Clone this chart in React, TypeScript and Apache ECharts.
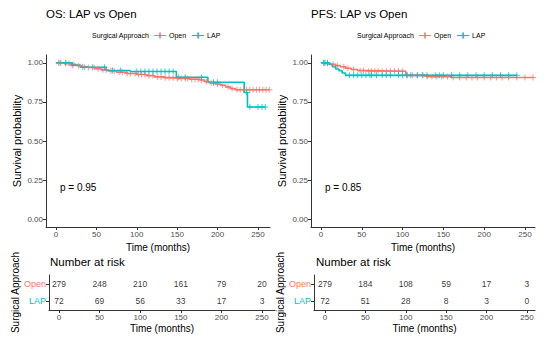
import React, { useEffect, useRef } from "react";
import * as echarts from "echarts";

// ---------- data ----------
const TIME_TICKS = [0, 50, 100, 150, 200, 250];
const SURV_TICKS = [0, 0.25, 0.5, 0.75, 1];
const GROUPS = ["Open", "LAP"];

// Kaplan–Meier steps: [time (months), survival probability]
const OS_OPEN_KM = [
  [0, 1.0], [10, 0.995], [18, 0.99], [25, 0.982], [32, 0.975], [40, 0.97], [48, 0.962],
  [56, 0.955], [65, 0.948], [75, 0.94], [88, 0.932], [100, 0.925], [112, 0.918], [122, 0.91],
  [135, 0.905], [150, 0.9], [165, 0.895], [178, 0.89], [184, 0.88], [190, 0.872], [197, 0.865],
  [204, 0.857], [210, 0.845], [216, 0.835], [222, 0.828], [264, 0.828],
];
const OS_LAP_KM = [
  [0, 1.0], [20, 0.985], [30, 0.972], [62, 0.951], [92, 0.944], [149, 0.908], [188, 0.876],
  [233, 0.81], [237, 0.717], [259, 0.717],
];
const PFS_OPEN_KM = [
  [0, 1.0], [6, 0.995], [12, 0.99], [18, 0.982], [24, 0.975], [30, 0.965], [37, 0.957],
  [45, 0.95], [55, 0.946], [104, 0.92], [130, 0.912], [160, 0.906], [260, 0.906],
];
const PFS_LAP_KM = [
  [0, 1.0], [10, 0.99], [14, 0.975], [18, 0.96], [22, 0.95], [26, 0.935], [30, 0.92], [240, 0.92],
];

// censoring times (months)
const OS_OPEN_CENSOR = [
  3, 6, 12, 16, 22, 28, 33, 40, 47, 52, 58, 62, 68, 72, 78, 82, 88, 92, 98, 102, 106, 110, 115,
  120, 126, 130, 135, 140, 145, 150, 155, 160, 163, 168, 172, 176, 180, 186, 192, 195, 200, 206,
  213, 218, 224, 228, 232, 236, 240, 244, 248, 252, 256, 260, 264,
];
const OS_LAP_CENSOR = [
  5, 12, 20, 35, 45, 60, 70, 80, 100, 105, 110, 115, 120, 125, 130, 135, 140, 145, 152, 160,
  180, 195, 200, 236, 240, 250, 255, 259,
];
const PFS_OPEN_CENSOR = [
  4, 8, 15, 20, 28, 33, 40, 48, 52, 58, 62, 66, 70, 75, 80, 85, 90, 95, 100, 106, 112, 118, 124,
  130, 136, 142, 148, 155, 162, 170, 178, 185, 192, 200, 208, 215, 222, 230, 240, 250, 260,
];
const PFS_LAP_CENSOR = [
  3, 5, 8, 35, 40, 45, 50, 55, 60, 62, 68, 75, 80, 85, 95, 100, 105, 110, 118, 125, 130, 140,
  145, 150, 160, 170, 180, 190, 200, 210, 220, 230, 240,
];

// number at risk at TIME_TICKS
const OS_RISK_OPEN = [279, 248, 210, 161, 79, 20];
const OS_RISK_LAP = [72, 69, 56, 33, 17, 3];
const PFS_RISK_OPEN = [279, 184, 108, 59, 17, 3];
const PFS_RISK_LAP = [72, 51, 28, 8, 3, 0];

const OS_TITLE = "OS: LAP vs Open";
const PFS_TITLE = "PFS: LAP vs Open";
const OS_P = "p = 0.95";
const PFS_P = "p = 0.85";

// ---------- styling ----------
const FONT = '"Liberation Sans", Arial, Helvetica, sans-serif';
const COLORS: Record<string, string> = { Open: "#F8766D", LAP: "#00BFC4" };
const AXIS_COLOR = "#333333";
const TICK_TEXT = "#4D4D4D";
const PLUS = "path://M4.2,0H5.8V4.2H10V5.8H5.8V10H4.2V5.8H0V4.2H4.2Z";
const LEGEND_ICON = "path://M0,4.4H12V5.6H0Z M5.2,2H6.8V8H5.2Z";

function survAt(km: number[][], t: number) {
  let s = 1;
  for (const [tt, ss] of km) {
    if (tt <= t) s = ss;
    else break;
  }
  return s;
}

function timeAxis(gridIndex: number, min: number, max: number) {
  return {
    type: "value",
    gridIndex,
    min,
    max,
    name: "Time (months)",
    nameLocation: "middle",
    nameGap: 13,
    nameTextStyle: { fontSize: 10, color: "#000", fontFamily: FONT },
    axisLine: { show: true, onZero: false, lineStyle: { color: AXIS_COLOR, width: 1 } },
    axisTick: { show: true, length: 3, customValues: TIME_TICKS, lineStyle: { color: AXIS_COLOR } },
    axisLabel: { customValues: TIME_TICKS, fontSize: 8, color: TICK_TEXT, margin: 3, fontFamily: FONT },
    splitLine: { show: false },
  };
}

function survAxis(gridIndex: number) {
  return {
    type: "value",
    gridIndex,
    min: -0.05,
    max: 1.05,
    name: "Survival probability",
    nameLocation: "middle",
    nameGap: 24,
    nameTextStyle: { fontSize: 11, color: "#000", fontFamily: FONT },
    axisLine: { show: true, onZero: false, lineStyle: { color: AXIS_COLOR, width: 1 } },
    axisTick: { show: true, length: 3, customValues: SURV_TICKS, lineStyle: { color: AXIS_COLOR } },
    axisLabel: {
      customValues: SURV_TICKS,
      fontSize: 8,
      color: TICK_TEXT,
      margin: 3,
      fontFamily: FONT,
      formatter: (v: number) => v.toFixed(2),
    },
    splitLine: { show: false },
  };
}

function groupAxis(gridIndex: number) {
  return {
    type: "category",
    gridIndex,
    data: [...GROUPS].reverse(),
    boundaryGap: true,
    name: "Surgical Approach",
    nameLocation: "middle",
    nameGap: 28,
    nameTextStyle: { fontSize: 10, color: "#000", fontFamily: FONT },
    axisLine: { show: true, onZero: false, lineStyle: { color: AXIS_COLOR, width: 1 } },
    axisTick: { show: true, length: 3, alignWithLabel: true, lineStyle: { color: AXIS_COLOR } },
    axisLabel: {
      fontSize: 9,
      margin: 3,
      fontFamily: FONT,
      formatter: (v: string) => `{${v}|${v}}`,
      rich: {
        Open: { color: COLORS.Open, fontSize: 9, fontFamily: FONT },
        LAP: { color: COLORS.LAP, fontSize: 9, fontFamily: FONT },
      },
    },
    splitLine: { show: false },
  };
}

function kmSeries(name: string, km: number[][], censor: number[], axisIndex: number) {
  return [
    {
      type: "line",
      name,
      xAxisIndex: axisIndex,
      yAxisIndex: axisIndex,
      data: km,
      step: "end",
      symbol: "none",
      color: COLORS[name],
      lineStyle: { color: COLORS[name], width: 1.6 },
      z: 3,
    },
    {
      type: "scatter",
      name,
      xAxisIndex: axisIndex,
      yAxisIndex: axisIndex,
      data: censor.map((t) => [t, survAt(km, t)]),
      symbol: PLUS,
      symbolSize: 6,
      color: COLORS[name],
      itemStyle: { color: COLORS[name] },
      z: 4,
    },
  ];
}

function riskSeries(name: string, values: number[], axisIndex: number) {
  return {
    type: "scatter",
    name: "risk-" + name + axisIndex,
    xAxisIndex: axisIndex,
    yAxisIndex: axisIndex,
    data: TIME_TICKS.map((t, i) => [t, name, values[i]]),
    symbolSize: 1,
    itemStyle: { color: "rgba(0,0,0,0)" },
    label: {
      show: true,
      position: "inside",
      formatter: (p: any) => String(p.value[2]),
      fontSize: 8.5,
      color: "#000",
      fontFamily: FONT,
    },
  };
}

function legendFor(left: number) {
  return {
    left,
    top: 32,
    orient: "horizontal",
    itemWidth: 12,
    itemHeight: 6,
    itemGap: 6,
    padding: 0,
    selectedMode: false,
    textStyle: { fontSize: 7, color: "#000", fontFamily: FONT, padding: [0, 0, 0, -2] },
    data: GROUPS.map((g) => ({ name: g, icon: LEGEND_ICON, itemStyle: { color: COLORS[g] } })),
  };
}

export default function App() {
  const ref = useRef<HTMLDivElement>(null);

  useEffect(() => {
    if (!ref.current) return;
    const chart = echarts.init(ref.current, undefined, { renderer: "svg" });
    const option: any = {
      animation: false,
      backgroundColor: "#ffffff",
      textStyle: { fontFamily: FONT },
      grid: [
        { left: 46, top: 55, width: 224, height: 172 },
        { left: 311, top: 55, width: 224, height: 172 },
        { left: 49, top: 275, width: 226, height: 35 },
        { left: 314, top: 275, width: 221, height: 35 },
      ],
      xAxis: [
        timeAxis(0, -12.4, 264.9),
        timeAxis(1, -12.25, 262.3),
        timeAxis(2, -12.3, 266),
        timeAxis(3, -13.6, 260),
      ],
      yAxis: [survAxis(0), survAxis(1), groupAxis(2), groupAxis(3)],
      legend: [legendFor(154), legendFor(419)],
      graphic: [
        { type: "text", left: 46, top: 8, style: { text: OS_TITLE, fontSize: 11.5, fill: "#000", fontFamily: FONT } },
        { type: "text", left: 311, top: 8, style: { text: PFS_TITLE, fontSize: 11.5, fill: "#000", fontFamily: FONT } },
        { type: "text", left: 92, top: 32, style: { text: "Surgical Approach", fontSize: 7, fill: "#000", fontFamily: FONT } },
        { type: "text", left: 357, top: 32, style: { text: "Surgical Approach", fontSize: 7, fill: "#000", fontFamily: FONT } },
        { type: "text", left: 60, top: 182, style: { text: OS_P, fontSize: 10, fill: "#000", fontFamily: FONT } },
        { type: "text", left: 325, top: 182, style: { text: PFS_P, fontSize: 10, fill: "#000", fontFamily: FONT } },
        { type: "text", left: 50, top: 256, style: { text: "Number at risk", fontSize: 11.5, fill: "#000", fontFamily: FONT } },
        { type: "text", left: 316, top: 256, style: { text: "Number at risk", fontSize: 11.5, fill: "#000", fontFamily: FONT } },
      ],
      series: [
        ...kmSeries("Open", OS_OPEN_KM, OS_OPEN_CENSOR, 0),
        ...kmSeries("LAP", OS_LAP_KM, OS_LAP_CENSOR, 0),
        ...kmSeries("Open", PFS_OPEN_KM, PFS_OPEN_CENSOR, 1),
        ...kmSeries("LAP", PFS_LAP_KM, PFS_LAP_CENSOR, 1),
        riskSeries("Open", OS_RISK_OPEN, 2),
        riskSeries("LAP", OS_RISK_LAP, 2),
        riskSeries("Open", PFS_RISK_OPEN, 3),
        riskSeries("LAP", PFS_RISK_LAP, 3),
      ],
    };
    chart.setOption(option);
    return () => chart.dispose();
  }, []);

  return (
    <div
      ref={ref}
      style={{ position: "absolute", left: 0, top: 0, width: 550, height: 341, background: "#fff" }}
    />
  );
}
